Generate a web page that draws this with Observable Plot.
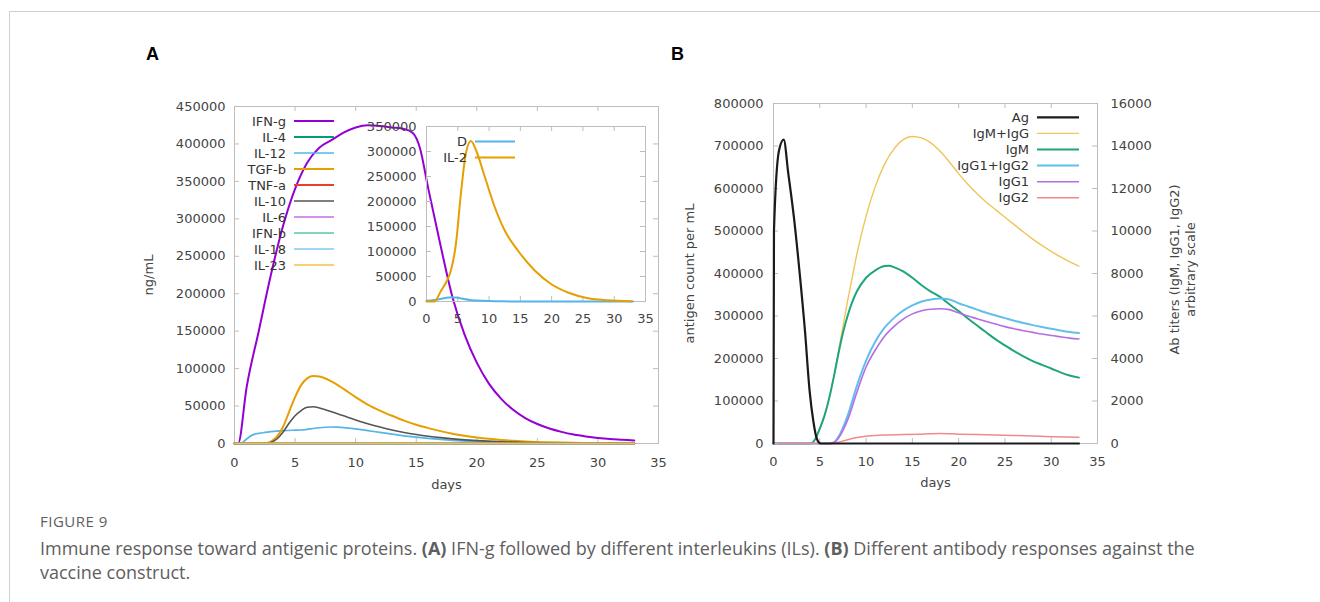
<!DOCTYPE html>
<html><head><meta charset="utf-8">
<script src="https://cdn.jsdelivr.net/npm/d3@7"></script>
<script src="https://cdn.jsdelivr.net/npm/@observablehq/plot@0.6"></script>
<style>
body{margin:0;background:#fff;}
#wrap{position:relative;width:1320px;height:602px;overflow:hidden;background:#fff;}
#border{position:absolute;left:9px;top:11px;width:1320px;height:600px;border-top:1px solid #d0d0d0;border-left:1px solid #d0d0d0;}
.abs{position:absolute;left:0;top:0;}
.plabel{position:absolute;font-family:"Liberation Sans",Arial,sans-serif;font-weight:bold;font-size:18px;line-height:18px;color:#000;}
.cap{position:absolute;left:40px;font-family:"Open Sans",sans-serif;color:#5e5e5e;white-space:nowrap;}
</style></head>
<body>
<div id="wrap">
  <div id="border"></div>
  <div class="plabel" style="left:146px;top:45px">A</div>
  <div class="plabel" style="left:671px;top:45px">B</div>
  <div id="pa" class="abs"></div>
  <div id="pinset" class="abs"></div>
  <div id="pb1" class="abs" style="left:660px"></div>
  <div id="pb2" class="abs" style="left:660px"></div>
  <div class="cap" style="top:511px;font-size:15px;letter-spacing:0.5px;">FIGURE 9</div>
  <div class="cap" style="top:536px;font-size:18px;line-height:24px;">Immune response toward antigenic proteins. <b>(A)</b> IFN-g followed by different interleukins (ILs). <b>(B)</b> Different antibody responses against the<br>vaccine construct.</div>
</div>
<script>
// ---------------- Panel A data (ng/mL vs days) ----------------
const seriesA = ["IFN-g","IL-4","IL-12","TGF-b","TNF-a","IL-10","IL-6","IFN-b","IL-18","IL-23"];
const daysIFNg = [0,0.3,1,2,3,4,5,6,7,8,9,10,11,12,13,14,14.7,15.3,16,17,18,19,20,21,22,23,24,25,26,27,28,29,30,31,32,33];
const valsIFNg = [0,0,75000,150000,225000,290000,340000,375000,395000,405000,415000,422000,425000,424000,422000,420000,415000,395000,340000,265000,195000,145000,108000,80000,60000,45000,34000,26000,20000,15500,12000,9500,7500,6000,5000,4000];
const daysIL12 = [0,0.5,1,1.5,2,2.5,3,3.5,4,5,5.5,6,6.5,7,7.5,8,8.5,9,10,11,12,13,14,15,16,17,18,19,20,21,22,24,26,28,30,33];
const valsIL12 = [0,0,6000,11500,13500,14800,15800,16600,17200,17800,18000,18800,20000,21000,21700,22000,21800,21300,19500,17200,14800,12500,10300,8400,6800,5400,4200,3300,2500,1900,1400,800,450,250,120,50];
const daysTGFb = [0,2.5,3,3.5,4,4.5,5,5.5,6,6.5,7,8,9,10,11,12,13,14,15,16,17,18,19,20,21,22,23,24,26,28,30,33];
const valsTGFb = [0,0,2500,9000,22000,42000,62000,78000,87000,90000,89500,83000,73000,62000,52000,44000,37000,30500,25000,20500,16500,13000,10300,8000,6200,4800,3700,2800,1600,900,500,200];
const daysIL10 = [0,2.5,3,3.5,4,4.5,5,5.5,6,6.5,7,8,9,10,11,12,13,14,15,16,17,18,19,20,22,24,26,28,30,33];
const valsIL10 = [0,0,1500,6000,15000,27000,37000,44000,48500,49000,47500,42500,37000,31500,26500,22000,18000,14700,12000,9700,7800,6200,4900,3900,2400,1400,800,450,250,100];
const daysFlat = [0,33];
const valsFlat = [0,0];
const colorsA = ["#9400d3","#009e73","#56b4e9","#e69f00","#e8402a","#555555","#c070e8","#5cc69c","#80caef","#f0c24a"];
const widthsA = [2,2,1.7,2,2,1.6,1.4,1.4,1.4,1.4];
const xTicks = [0,5,10,15,20,25,30,35];
const yTicksA = [0,50000,100000,150000,200000,250000,300000,350000,400000,450000];

// inset
const seriesInset = ["D","IL-2"];
const daysD = [0,1,2,3,4,5,6,7,8,10,12,15,33];
const valsD = [1500,2500,4500,7000,8500,7500,5000,3000,2000,800,300,100,0];
const daysIL2 = [0,1.3,2.3,3.4,3.9,4.7,5.5,6.3,7.1,7.9,9.3,10.9,12.5,14.6,17.3,19.9,22.6,25.8,29,32.8];
const valsIL2 = [0,0,21000,45000,62000,115000,216000,297000,321000,303000,250000,189000,142000,102000,62000,35000,18000,6700,2700,700];
const colorsInset = ["#56b4e9","#e69f00"];
const yTicksInset = [0,50000,100000,150000,200000,250000,300000,350000];

// ---------------- Panel B data ----------------
const seriesB = ["Ag","IgM+IgG","IgM","IgG1+IgG2","IgG1","IgG2"];
const daysAg = [0,0.05,0.6,1.1,1.6,2.2,2.8,3.4,3.9,4.3,4.7,5.1,33];
const valsAg = [0,500000,690000,715000,635000,533000,407000,265000,124000,53000,10000,0,0];
const daysIgMG = [0,4,4.5,5,5.5,6,6.5,7,7.5,8,8.5,9,10,11,12,13,14,15,16,17,18,19,20,21,22,23,24,25,26,27,28,29,30,31,32,33];
const valsIgMG = [0,0,200,700,1300,2100,3100,4300,5500,6700,7800,8900,10700,12100,13150,13850,14300,14450,14380,14150,13750,13250,12700,12200,11750,11350,11000,10650,10300,9950,9620,9320,9040,8780,8550,8350];
const daysIgM = [0,4,4.5,5,5.5,6,6.5,7,7.5,8,8.5,9,10,11,12,12.5,13,14,15,16,17,18,19,20,21,22,23,24,25,26,27,28,29,30,31,32,33];
const valsIgM = [0,0,200,700,1300,2100,3100,4200,5200,6000,6650,7150,7800,8150,8350,8370,8300,8100,7800,7450,7150,6900,6550,6230,5880,5550,5220,4900,4620,4350,4100,3880,3700,3530,3350,3200,3100];
const daysIgG12 = [0,6,6.5,7,8,9,10,11,12,13,14,15,16,17,18,19,20,21,22,23,24,25,26,27,28,29,30,31,32,33];
const valsIgG12 = [0,0,50,300,1300,2700,3900,4800,5450,5900,6250,6500,6680,6780,6820,6780,6600,6450,6300,6150,6020,5900,5780,5670,5570,5480,5400,5320,5250,5200];
const daysIgG1 = [0,6,6.5,7,8,9,10,11,12,13,14,15,16,17,18,19,20,21,22,23,24,25,26,27,28,29,30,31,32,33];
const valsIgG1 = [0,0,40,250,1100,2400,3600,4400,5050,5500,5850,6100,6250,6320,6340,6300,6150,6000,5870,5740,5620,5500,5400,5310,5230,5150,5080,5020,4960,4920];
const daysIgG2 = [0,6.5,7,8,9,10,11,12,14,16,18,20,22,24,26,28,30,33];
const valsIgG2 = [0,0,60,180,280,340,380,400,420,440,470,440,420,400,380,350,320,290];
const colorsB = ["#1a1a1a","#f0c558","#1ea67a","#62bfec","#b56de6","#f08a8a"];
const widthsB = [2.2,1.4,2,2,1.6,1.5];
const yTicksB = [0,100000,200000,300000,400000,500000,600000,700000,800000];
const y2TicksB = [0,2000,4000,6000,8000,10000,12000,14000,16000];

// ---------------- helpers ----------------
const FONT = "DejaVu Sans";
const TXT = "#444";
const FR = "#bdbdbd";
function rows(names, days, vals) {
  const out = [];
  names.forEach((n, k) => days[k].forEach((d, i) => out.push({series: n, day: d, v: vals[k][i]})));
  return out;
}
function tickMarks(xT, yT, innerW, innerH, opt = {}) {
  const L = 5;
  const m = [
    Plot.tickX(xT, {x: d => d, insetTop: innerH - L, stroke: FR}),
    Plot.tickX(xT, {x: d => d, insetBottom: innerH - L, stroke: FR})
  ];
  if (opt.left !== false) m.push(Plot.tickY(yT, {y: d => d, insetRight: innerW - L, stroke: FR}));
  if (opt.right !== false) m.push(Plot.tickY(yT, {y: d => d, insetLeft: innerW - L, stroke: FR}));
  return m;
}
function legend(svg, items, colors, widths, xr, y0, step, len) {
  const g = d3.select(svg).append("g").attr("font-family", FONT).attr("font-size", 13);
  items.forEach((n, i) => {
    const y = y0 + i * step;
    g.append("text").attr("x", xr).attr("y", y).attr("dy", "0.35em").attr("text-anchor", "end").attr("fill", "#333").text(n);
    g.append("line").attr("x1", xr + 8).attr("x2", xr + 8 + len).attr("y1", y).attr("y2", y)
      .attr("stroke", colors[i]).attr("stroke-width", widths[i]);
  });
}
const styleBase = {fontFamily: FONT, fontSize: "13px", color: TXT, overflow: "visible", background: "transparent"};

// ---------------- Panel A ----------------
const WA = 680, HA = 500, mA = {top: 106, left: 234, right: 22, bottom: 57};
const innerWA = WA - mA.left - mA.right, innerHA = HA - mA.top - mA.bottom;
const dataA = rows(seriesA,
  [daysIFNg, daysFlat, daysIL12, daysTGFb, daysFlat, daysIL10, daysFlat, daysFlat, daysFlat, daysFlat],
  [valsIFNg, valsFlat, valsIL12, valsTGFb, valsFlat, valsIL10, valsFlat, valsFlat, valsFlat, valsFlat]);
const plotA = Plot.plot({
  width: WA, height: HA,
  marginTop: mA.top, marginLeft: mA.left, marginRight: mA.right, marginBottom: mA.bottom,
  style: styleBase,
  x: {domain: [0, 35]},
  y: {domain: [0, 450000]},
  marks: [
    Plot.frame({stroke: FR}),
    ...tickMarks(xTicks, yTicksA, innerWA, innerHA),
    Plot.axisX({ticks: xTicks, tickSize: 0, tickPadding: 14, label: null, fill: TXT}),
    Plot.axisY({ticks: yTicksA, tickSize: 0, tickPadding: 9, label: null, tickFormat: d => String(d), fill: TXT}),
    ...seriesA.map((s, i) => Plot.line(dataA.filter(d => d.series === s), {x: "day", y: "v", stroke: colorsA[i], strokeWidth: widthsA[i], curve: "monotone-x"})),
    Plot.text(["days"], {frameAnchor: "bottom", dy: 45, fill: TXT}),
    Plot.text(["ng/mL"], {frameAnchor: "left", dx: -86, rotate: -90, textAnchor: "middle", fill: TXT})
  ]
});
document.getElementById("pa").appendChild(plotA);
legend(plotA, seriesA, colorsA, widthsA, 286, 121, 16, 40);

// inset
const mI = {top: 126, left: 426, right: WA - 645, bottom: HA - 301};
const innerWI = WA - mI.left - mI.right, innerHI = HA - mI.top - mI.bottom;
const dataI = rows(seriesInset, [daysD, daysIL2], [valsD, valsIL2]);
const plotI = Plot.plot({
  width: WA, height: HA,
  marginTop: mI.top, marginLeft: mI.left, marginRight: mI.right, marginBottom: mI.bottom,
  style: styleBase,
  x: {domain: [0, 35]},
  y: {domain: [0, 350000]},
  marks: [
    Plot.frame({stroke: FR}),
    ...tickMarks(xTicks, yTicksInset, innerWI, innerHI),
    Plot.axisX({ticks: xTicks, tickSize: 0, tickPadding: 12, label: null, fill: TXT}),
    Plot.axisY({ticks: yTicksInset, tickSize: 0, tickPadding: 10, label: null, tickFormat: d => String(d), fill: TXT}),
    ...seriesInset.map((s, i) => Plot.line(dataI.filter(d => d.series === s), {x: "day", y: "v", stroke: colorsInset[i], strokeWidth: 2, curve: "monotone-x"}))
  ]
});
document.getElementById("pinset").appendChild(plotI);
legend(plotI, seriesInset, colorsInset, [2, 2], 467, 141.5, 16, 40);

// ---------------- Panel B ----------------
const WB = 560, HB = 500, mB = {top: 103, left: 113, right: WB - 437, bottom: 57};
const innerWB = WB - mB.left - mB.right, innerHB = HB - mB.top - mB.bottom;
const abNames = seriesB.slice(1);
const dataAb = rows(abNames, [daysIgMG, daysIgM, daysIgG12, daysIgG1, daysIgG2], [valsIgMG, valsIgM, valsIgG12, valsIgG1, valsIgG2]);
const plotB1 = Plot.plot({
  width: WB, height: HB,
  marginTop: mB.top, marginLeft: mB.left, marginRight: mB.right, marginBottom: mB.bottom,
  style: styleBase,
  x: {domain: [0, 35], axis: null},
  y: {domain: [0, 16000]},
  marks: [
    Plot.frame({stroke: FR}),
    ...tickMarks(xTicks, y2TicksB, innerWB, innerHB, {left: false}),
    Plot.axisY({anchor: "right", ticks: y2TicksB, tickSize: 0, tickPadding: 13, label: null, tickFormat: d => String(d), fill: TXT}),
    ...abNames.map((s, i) => Plot.line(dataAb.filter(d => d.series === s), {x: "day", y: "v", stroke: colorsB[i + 1], strokeWidth: widthsB[i + 1], curve: "monotone-x"})),
    Plot.text(["Ab titers (IgM, IgG1, IgG2)"], {frameAnchor: "right", dx: 77, dy: -4, rotate: -90, textAnchor: "middle", fill: TXT}),
    Plot.text(["arbitrary scale"], {frameAnchor: "right", dx: 93, dy: -4, rotate: -90, textAnchor: "middle", fill: TXT})
  ]
});
document.getElementById("pb1").appendChild(plotB1);

const dataAg = rows(["Ag"], [daysAg], [valsAg]);
const plotB2 = Plot.plot({
  width: WB, height: HB,
  marginTop: mB.top, marginLeft: mB.left, marginRight: mB.right, marginBottom: mB.bottom,
  style: styleBase,
  x: {domain: [0, 35]},
  y: {domain: [0, 800000]},
  marks: [
    Plot.tickY(yTicksB, {y: d => d, insetRight: innerWB - 5, stroke: FR}),
    Plot.axisX({ticks: xTicks, tickSize: 0, tickPadding: 13, label: null, fill: TXT}),
    Plot.axisY({ticks: yTicksB, tickSize: 0, tickPadding: 10, label: null, tickFormat: d => String(d), fill: TXT}),
    Plot.line(dataAg, {x: "day", y: "v", stroke: colorsB[0], strokeWidth: widthsB[0], curve: "monotone-x"}),
    Plot.text(["days"], {frameAnchor: "bottom", dy: 43, fill: TXT}),
    Plot.text(["antigen count per mL"], {frameAnchor: "left", dx: -84, rotate: -90, textAnchor: "middle", fill: TXT})
  ]
});
document.getElementById("pb2").appendChild(plotB2);
legend(plotB2, seriesB, colorsB, widthsB, 369, 117.3, 16.1, 42);
</script>
</body></html>
